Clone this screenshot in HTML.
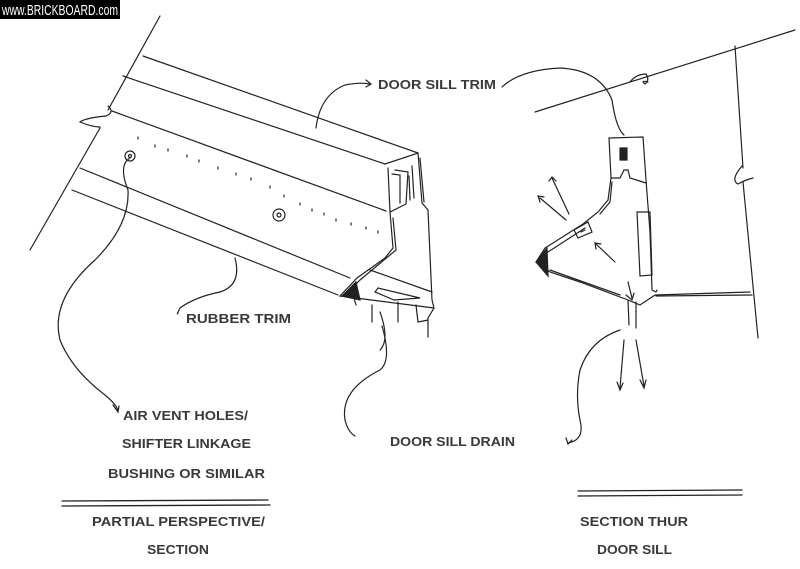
<!DOCTYPE html>
<html><head><meta charset="utf-8"><style>
html,body{margin:0;padding:0;background:#fff;}
svg{display:block;}
text{font-family:"Liberation Sans",sans-serif;font-weight:bold;font-size:12.5px;fill:#3a3a3a;}
</style></head><body>
<svg width="800" height="569" viewBox="0 0 800 569" xmlns="http://www.w3.org/2000/svg">
<rect x="0" y="0" width="120" height="19" fill="#000"/>
<text x="2" y="15" textLength="116" lengthAdjust="spacingAndGlyphs" style="fill:#fff;font-weight:normal;font-size:15px">www.BRICKBOARD.com</text>

<g fill="none" stroke="#222" stroke-width="1.2" stroke-linecap="round">
<!-- left perspective -->
<path d="M160 16 L108 110 M100 128 L30 250"/>
<path d="M108 106 Q115 112 106 116 Q85 118 80 122 Q92 127 100 127"/>
<path d="M143 56 L418 153"/>
<path d="M123 76 L385 164"/>
<path d="M112 111 L386 211"/>
<path d="M80 168 L350 278"/>
<path d="M72 190 L338 295"/>
<circle cx="130" cy="156" r="5"/><circle cx="130" cy="156" r="1.5"/>
<circle cx="279" cy="215" r="6"/><circle cx="279" cy="215" r="2"/>
<path d="M138 137l0 2 M155 145l0 2 M168 149l0 2 M187 155l0 2 M199 160l0 2 M218 167l0 2 M236 173l0 2 M251 178l0 2 M270 186l0 2 M284 195l0 2 M300 203l0 2 M312 209l0 2 M324 213l0 2 M336 219l0 2 M351 223l0 2 M366 227l0 2 M378 231l0 2"/>
<!-- trim profile -->
<path d="M385 164 L418 153 L422 203 L428 210 L432 300 L434 308 L428 318 L428 337"/>
<path d="M388 168 L390 212 L406 204 L408 172 L395 170"/>
<path d="M392 174 L400 175 L400 203 M409 176 L410 200 M412 166 L414 198 M420 158 L424 202"/>
<path d="M390 212 L393 248 L385 258 L357 278 L340 296 L434 308"/>
<path d="M393 218 L396 250 L360 280 L350 290"/>
<path d="M370 270 L432 292 M378 288 L420 298 L394 300 L375 292 Z M354 298 L356 305 M372 305 L372 322 M398 302 L398 322 M416 305 L418 322 L428 320 M380 312 Q390 340 380 350"/>
<path d="M342 296 L356 282 L360 300 Z" fill="#222"/>
<!-- leaders -->
<path d="M316 128 Q320 95 345 85 Q360 82 370 84 M366 80 L371 84 L366 87"/>
<path d="M235 258 Q242 285 220 292 Q195 297 180 308 Q176 316 178 313"/>
<path d="M130 158 Q118 165 128 190 Q130 225 95 260 Q50 300 60 340 Q72 370 105 395 Q115 403 118 410 M113 405 L118 412 L119 406"/>
<path d="M382 326 Q392 360 380 370 Q340 390 345 420 Q348 432 355 436"/>
<line x1="62" y1="501" x2="268" y2="500" stroke-width="1.3"/>
<line x1="62" y1="506" x2="270" y2="505" stroke-width="1.3"/>

<!-- right section -->
<path d="M535 112 L795 30"/>
<path d="M630 82 Q636 74 646 74 Q650 80 645 84 Q640 80 648 82"/>
<path d="M735 46 L743 168 M743 182 L758 338"/>
<path d="M742 166 Q730 180 738 184 Q745 180 753 178"/>
<path d="M502 87 Q520 70 560 68 Q600 70 612 100 Q616 128 624 135"/>
<path d="M609 138 L643 137 L646 180 L650 232 L652 290 L656 292 L657 290"/>
<path d="M609 138 L611 178 L620 178 L624 170 L628 170 L630 178 L646 183"/>
<path d="M620 148 L627 148 L627 160 L620 160 Z" fill="#222"/>
<path d="M611 178 L608 200 L598 212 L583 224 L545 248 L536 262 L550 272 L580 282 L628 300 L640 305 L655 295 L750 292"/>
<path d="M612 182 L610 202 L600 214 M548 252 L585 228 M550 270 L620 295 M656 296 L752 295"/>
<path d="M637 212 L650 212 L652 275 L640 276 Z"/>
<path d="M574 230 L588 222 L592 232 L578 238 Z M581 232 L585 230"/>
<path d="M536 262 L547 248 L548 276 Z" fill="#222"/>
<path d="M628 300 L629 325 M636 302 L636 328"/>
<path d="M569 214 L552 178 M549 181 L552 177 L556 181 M566 220 L540 198 M540 202 L538 196 L544 197 M615 262 L596 244 M596 249 L595 243 L601 244 M628 282 L632 298 M626 295 L632 300 L634 293 M624 340 L620 388 M617 382 L620 390 L623 383 M636 340 L644 386 M640 380 L644 388 L646 380"/>
<path d="M620 330 Q590 340 580 370 Q575 395 580 420 Q585 440 568 443 M566 438 L568 444 L572 440"/>
<line x1="578" y1="491" x2="742" y2="490" stroke-width="1.3"/>
<line x1="578" y1="496" x2="742" y2="495" stroke-width="1.3"/>
</g>

<text x="378" y="89" textLength="118" lengthAdjust="spacingAndGlyphs">DOOR SILL TRIM</text>
<text x="186" y="323" textLength="105" lengthAdjust="spacingAndGlyphs">RUBBER TRIM</text>
<text x="123" y="420" textLength="125" lengthAdjust="spacingAndGlyphs">AIR VENT HOLES/</text>
<text x="122" y="448" textLength="129" lengthAdjust="spacingAndGlyphs">SHIFTER LINKAGE</text>
<text x="108" y="478" textLength="157" lengthAdjust="spacingAndGlyphs">BUSHING OR SIMILAR</text>
<text x="390" y="446" textLength="125" lengthAdjust="spacingAndGlyphs">DOOR SILL DRAIN</text>
<text x="92" y="526" textLength="173" lengthAdjust="spacingAndGlyphs">PARTIAL PERSPECTIVE/</text>
<text x="147" y="554" textLength="62" lengthAdjust="spacingAndGlyphs">SECTION</text>
<text x="580" y="526" textLength="108" lengthAdjust="spacingAndGlyphs">SECTION THUR</text>
<text x="597" y="554" textLength="75" lengthAdjust="spacingAndGlyphs">DOOR SILL</text>
</svg>
</body></html>
